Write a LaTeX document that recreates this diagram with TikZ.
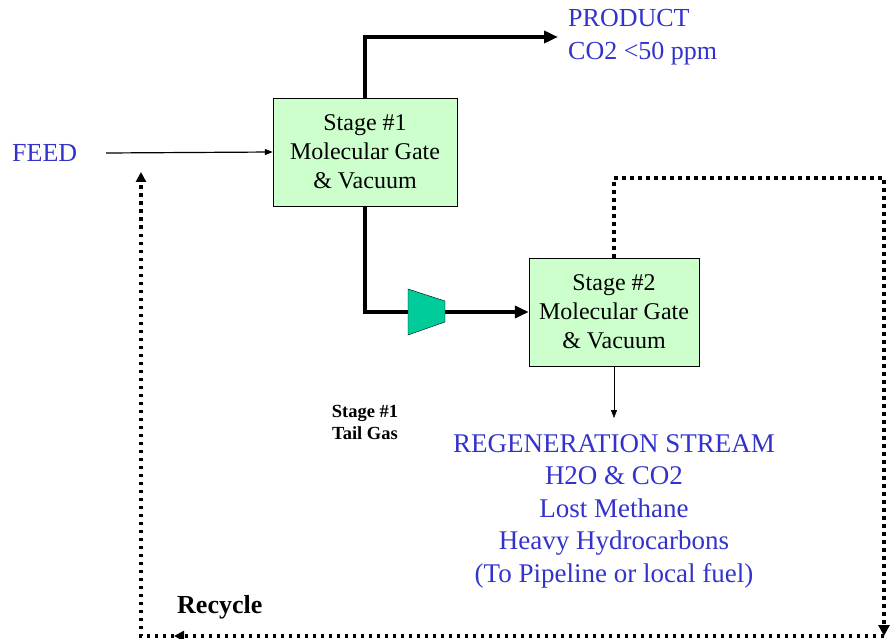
\documentclass[tikz,border=0pt]{standalone}
\usepackage{fontspec}
\setmainfont{Liberation Serif}
\usetikzlibrary{arrows.meta}
\definecolor{gatefill}{HTML}{CCFFCC}
\definecolor{compfill}{HTML}{00CC99}
\definecolor{labelblue}{HTML}{3333CC}
\begin{document}
\begin{tikzpicture}[x=1pt,y=-1pt,
    stagebox/.style={draw, thin, fill=gatefill, align=center, minimum height=108pt, font=\fontsize{24}{29}\selectfont},
    bluetext/.style={text=labelblue, align=center, font=\fontsize{26}{32.5}\selectfont},
    mainline/.style={line width=4pt, -{Triangle[length=14pt,width=12pt]}},
    recycleline/.style={line width=3.5pt, dash pattern=on 3.5pt off 4.5pt}]
    \useasboundingbox (0,0) rectangle (891,639);
    %% the two stages
    \node[stagebox, minimum width=184pt] (stage1) at (365,152) {Stage \#1\\Molecular Gate\\\& Vacuum};
    \node[stagebox, minimum width=170pt] (stage2) at (614,312) {Stage \#2\\Molecular Gate\\\& Vacuum};
    %% feed and product
    \node[bluetext, anchor=west, inner sep=0pt] (feed) at (12,153) {FEED};
    \coordinate (feedstart) at (106,153);
    \draw[line width=1.2pt, -{Triangle[length=8pt,width=6pt]}] (feedstart) -- (stage1.west);
    \node[bluetext, align=left, anchor=west, inner sep=0pt] (product) at (568,37) {PRODUCT\\CO2 <50 ppm};
    \draw[mainline] (stage1.north) |- ([xshift=-10pt]product.west);
    %% tail gas to stage 2 through the compressor
    \draw[mainline] (stage1.south) |- (stage2.west);
    \draw[thin, fill=compfill] (408,289) -- (445,301) -- (445,322) -- (408,335) -- cycle;
    \node[align=center, font=\fontsize{18.5}{22}\selectfont\bfseries] (tailgas) at (365,422) {Stage \#1\\Tail Gas};
    %% regeneration stream
    \node[bluetext, font=\fontsize{27}{32.5}\selectfont] (regen) at (614,511) {REGENERATION STREAM\\H2O \& CO2\\Lost Methane\\Heavy Hydrocarbons\\(To Pipeline or local fuel)};
    \coordinate (regentop) at (614,418);
    \draw[thin, -{Triangle[length=8pt,width=6pt]}] (stage2.south) -- (regentop);
    %% recycle loop
    \coordinate (loopNE) at (884,178);
    \coordinate (loopSE) at (884,636);
    \coordinate (recyclemid) at (174,636);
    \coordinate (loopSW) at (141,636);
    \coordinate (recycleend) at (141,172);
    \draw[recycleline, -{Triangle[length=11pt,width=11pt]}] (stage2.north) |- (loopNE) -- (loopSE);
    \draw[recycleline, -{Triangle[length=10pt,width=10pt]}] (loopSE) -- (recyclemid);
    \draw[recycleline, -{Triangle[length=10pt,width=10pt]}] (recyclemid) -- (loopSW) -- (recycleend);
    \node[anchor=west, inner sep=0pt, font=\fontsize{26}{30}\selectfont\bfseries] (recycle) at (177,607) {Recycle};
\end{tikzpicture}
\end{document}
